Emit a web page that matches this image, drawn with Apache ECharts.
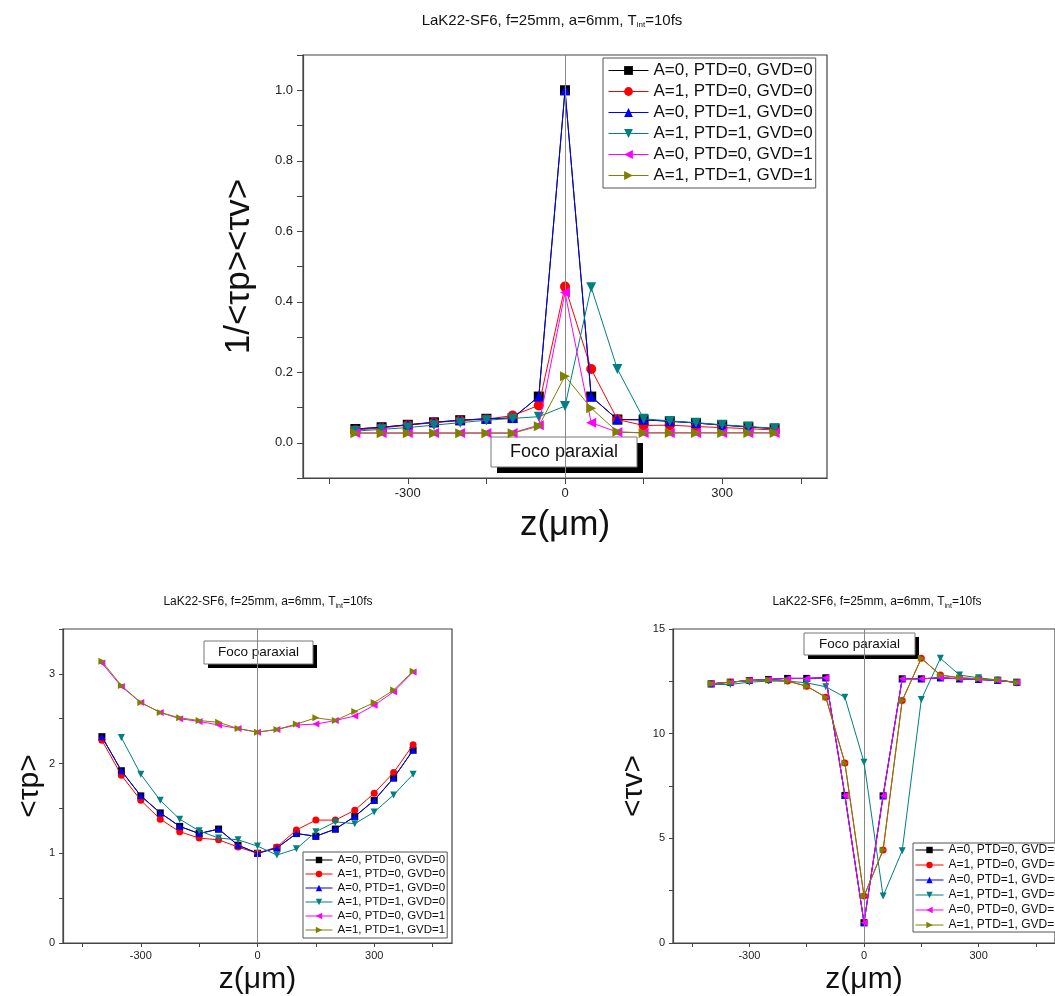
<!DOCTYPE html>
<html><head><meta charset="utf-8">
<script src="https://cdn.jsdelivr.net/npm/echarts@6/dist/echarts.min.js"></script>
<style>html,body{margin:0;padding:0;background:#fff}#c{width:1055px;height:996px}</style>
</head><body><div id="c"></div>
<script>
// ---------- data ----------
const zPos = [-400,-350,-300,-250,-200,-150,-100,-50,0,50,100,150,200,250,300,350,400];
const seriesNames = ['A=0, PTD=0, GVD=0','A=1, PTD=0, GVD=0','A=0, PTD=1, GVD=0','A=1, PTD=1, GVD=0','A=0, PTD=0, GVD=1','A=1, PTD=1, GVD=1'];
const xTickLabels = [-300, 0, 300];
const xTicks = [-450, -300, -150, 0, 150, 300, 450];
const yTicksInv = [0, 0.2, 0.4, 0.6, 0.8, 1.0];
const yMinorInv = [-0.1, 0, 0.1, 0.2, 0.3, 0.4, 0.5, 0.6, 0.7, 0.8, 0.9, 1.0, 1.1];
const yTicksTp = [0, 1, 2, 3];
const yMinorTp = [0, 0.5, 1, 1.5, 2, 2.5, 3, 3.5];
const yTicksTv = [0, 5, 10, 15];
const yMinorTv = [0, 2.5, 5, 7.5, 10, 12.5, 15];

// top panel: 1/<tau_p><tau_v>
const inv_A0P0G0 = [0.039,0.044,0.051,0.058,0.064,0.068,0.070,0.131,1.0,0.131,0.066,0.065,0.061,0.056,0.050,0.045,0.040];
const inv_A1P0G0 = [0.036,0.042,0.050,0.057,0.063,0.067,0.077,0.106,0.443,0.209,0.066,0.049,0.050,0.046,0.043,0.040,0.036];
const inv_A0P1G0 = [0.039,0.044,0.051,0.058,0.064,0.068,0.070,0.131,1.0,0.131,0.066,0.065,0.061,0.056,0.050,0.045,0.040];
const inv_A1P1G0 = [0.033,0.038,0.043,0.050,0.057,0.064,0.069,0.074,0.104,0.441,0.209,0.068,0.062,0.057,0.051,0.046,0.041];
const inv_A0P0G1 = [0.028,0.028,0.028,0.028,0.028,0.028,0.028,0.050,0.426,0.057,0.030,0.028,0.028,0.028,0.028,0.028,0.028];
const inv_A1P1G1 = [0.027,0.027,0.027,0.027,0.027,0.027,0.027,0.047,0.189,0.098,0.031,0.028,0.028,0.028,0.028,0.028,0.028];

// bottom-left: <tau_p>
const tp_A0P0G0 = [2.30,1.92,1.64,1.45,1.30,1.22,1.27,1.09,1.00,1.06,1.22,1.19,1.27,1.41,1.59,1.84,2.15];
const tp_A1P0G0 = [2.26,1.87,1.59,1.38,1.24,1.17,1.15,1.07,1.00,1.07,1.26,1.37,1.37,1.48,1.67,1.90,2.21];
const tp_A0P1G0 = [2.30,1.92,1.64,1.45,1.30,1.22,1.27,1.09,1.00,1.06,1.22,1.19,1.27,1.41,1.59,1.84,2.15];
const tp_A1P1G0 = [null,2.29,1.88,1.59,1.38,1.25,1.17,1.15,1.08,0.98,1.05,1.24,1.35,1.33,1.46,1.65,1.88];
const tp_A0P0G1 = [3.12,2.86,2.68,2.57,2.50,2.47,2.43,2.39,2.35,2.38,2.43,2.44,2.48,2.53,2.65,2.80,3.02];
const tp_A1P1G1 = [3.14,2.87,2.68,2.57,2.51,2.48,2.46,2.39,2.35,2.38,2.44,2.51,2.48,2.58,2.68,2.82,3.03];

// bottom-right: <tau_v>
const tv_A0P0G0 = [12.38,12.46,12.54,12.59,12.64,12.64,12.67,7.05,0.97,7.03,12.62,12.62,12.67,12.62,12.59,12.54,12.46];
const tv_A1P0G0 = [12.38,12.46,12.54,12.56,12.51,12.27,11.74,8.60,2.24,4.44,11.58,13.60,12.80,12.67,12.62,12.56,12.43];
const tv_A0P1G0 = [12.38,12.46,12.54,12.59,12.64,12.64,12.67,7.05,0.97,7.03,12.62,12.62,12.67,12.62,12.59,12.54,12.46];
const tv_A1P1G0 = [12.35,12.35,12.46,12.51,12.51,12.43,12.24,11.74,8.64,2.24,4.41,11.63,13.60,12.80,12.67,12.56,12.43];
const tv_A0P0G1 = [12.38,12.46,12.54,12.59,12.64,12.64,12.67,7.05,0.97,7.03,12.62,12.62,12.67,12.62,12.59,12.54,12.46];
const tv_A1P1G1 = [12.38,12.46,12.54,12.56,12.51,12.27,11.74,8.60,2.24,4.44,11.58,13.60,12.80,12.67,12.62,12.56,12.43];

const titleText = 'LaK22-SF6, f=25mm, a=6mm, T{s|int}=10fs';
const yNames = ['1/<τp><τv>', '<τp>', '<τv>'];
const xName = 'z(μm)';
const focoText = 'Foco paraxial';

// ---------- styling ----------
const FONT = 'Liberation Sans, Arial, Helvetica, sans-serif';
const colors = ['#000000','#ff0000','#0000ff','#008080','#ff00ff','#808000'];
const symbols = ['rect','circle','triangle','triangle','triangle','triangle'];
const rots = [0,0,0,180,90,-90];

const panels = [
  {data:[inv_A0P0G0,inv_A1P0G0,inv_A0P1G0,inv_A1P1G0,inv_A0P0G1,inv_A1P1G1], size:10,
   grid:{left:303, top:55, width:524, height:423}, ymin:-0.1, ymax:1.1, ylab:yTicksInv, ytick:yMinorInv,
   fmt:v=>v.toFixed(1), lf:13, tl:6, nf:35, ygap:46, xgap:30},
  {data:[tp_A0P0G0,tp_A1P0G0,tp_A0P1G0,tp_A1P1G0,tp_A0P0G1,tp_A1P1G1], size:7,
   grid:{left:63, top:629, width:389, height:314}, ymin:0, ymax:3.5, ylab:yTicksTp, ytick:yMinorTp,
   fmt:v=>String(v), lf:11, tl:4, nf:30, ygap:18, xgap:22},
  {data:[tv_A0P0G0,tv_A1P0G0,tv_A0P1G0,tv_A1P1G0,tv_A0P0G1,tv_A1P1G1], size:7,
   grid:{left:673, top:629, width:386, height:314}, ymin:0, ymax:15, ylab:yTicksTv, ytick:yMinorTv,
   fmt:v=>String(v), lf:11, tl:4, nf:30, ygap:22, xgap:22}
];

const grids=[], xAxes=[], yAxes=[], series=[];
panels.forEach((p, gi) => {
  grids.push(Object.assign({show:true, borderColor:'#444', borderWidth:1.2, backgroundColor:'transparent'}, p.grid));
  xAxes.push({type:'value', gridIndex:gi, min:-500, max:500,
    name:xName, nameLocation:'middle', nameGap:p.xgap,
    nameTextStyle:{fontSize:p.nf, fontFamily:FONT, color:'#111'},
    axisLine:{onZero:false, lineStyle:{color:'#444', width:1.2}},
    axisTick:{customValues:xTicks, length:p.tl, lineStyle:{color:'#444'}},
    axisLabel:{customValues:xTickLabels, fontSize:p.lf, fontFamily:FONT, color:'#222', margin:p.tl+3},
    splitLine:{show:false}});
  yAxes.push({type:'value', gridIndex:gi, min:p.ymin, max:p.ymax,
    name:yNames[gi], nameLocation:'middle', nameGap:p.ygap, nameRotate:90,
    nameTextStyle:{fontSize:p.nf, fontFamily:FONT, color:'#111'},
    axisLine:{onZero:false, lineStyle:{color:'#444', width:1.2}},
    axisTick:{customValues:p.ytick, length:p.tl, lineStyle:{color:'#444'}},
    axisLabel:{customValues:p.ylab, formatter:p.fmt, fontSize:p.lf, fontFamily:FONT, color:'#222', margin:p.tl+4},
    splitLine:{show:false}});
  p.data.forEach((arr, si) => {
    const s = {type:'line', name:seriesNames[si], xAxisIndex:gi, yAxisIndex:gi,
      data: zPos.map((z,k)=>[z, arr[k]]),
      symbol:symbols[si], symbolRotate:rots[si], symbolSize:p.size, showSymbol:true,
      connectNulls:false,
      lineStyle:{color:colors[si], width:1}, itemStyle:{color:colors[si]},
      emphasis:{disabled:true}, z:2+si};
    if (si === 0) {
      s.markLine = {silent:true, symbol:'none', label:{show:false}, animation:false,
        lineStyle:{color:'#888', width:1, type:'solid'}, data:[{xAxis:0}]};
    }
    series.push(s);
  });
});

const legends = [
  {left:603, top:58, itemWidth:40, itemHeight:11, itemGap:4, padding:[4,3,4,5], fs:17, lh:17},
  {left:303, top:852, itemWidth:27, itemHeight:8, itemGap:2, padding:[2,2,2,2], fs:11.5, lh:12},
  {left:913, top:843, itemWidth:28, itemHeight:8, itemGap:3, padding:[1,2,1,2], fs:12, lh:12}
].map(l => ({orient:'vertical', left:l.left, top:l.top, data:seriesNames,
  itemWidth:l.itemWidth, itemHeight:l.itemHeight, itemGap:l.itemGap, padding:l.padding,
  borderColor:'#555', borderWidth:1, backgroundColor:'#fff', selectedMode:false,
  lineStyle:{width:1},
  textStyle:{fontSize:l.fs, lineHeight:l.lh, fontFamily:FONT, color:'#111'}}));

function titleGraphic(cx, y, fs) {
  return {type:'text', x:cx, y:y, z:10, style:{text:titleText, align:'center', verticalAlign:'top',
    font: fs + 'px ' + FONT, fill:'#111',
    rich:{s:{fontSize:Math.round(fs*0.55), fontFamily:FONT, verticalAlign:'bottom', padding:[fs*0.6,0,0,0], fill:'#111'}}}};
}
function focoGraphic(x, y, w, h, off, fs) {
  return {type:'group', z:20, children:[
    {type:'rect', shape:{x:x+off, y:y+off, width:w, height:h}, style:{fill:'#000'}},
    {type:'rect', shape:{x:x, y:y, width:w, height:h}, style:{fill:'#fff', stroke:'#777', lineWidth:1}},
    {type:'text', x:x+w/2, y:y+h/2, style:{text:focoText, align:'center', verticalAlign:'middle',
      font: fs + 'px ' + FONT, fill:'#111'}}
  ]};
}

const chart = echarts.init(document.getElementById('c'), null, {renderer:'canvas'});
chart.setOption({
  animation:false,
  backgroundColor:'#fff',
  grid:grids, xAxis:xAxes, yAxis:yAxes, series:series, legend:legends,
  graphic:[
    titleGraphic(552, 12, 15),
    titleGraphic(268, 595, 12),
    titleGraphic(877, 595, 12),
    focoGraphic(491, 437, 146, 30, 6, 18),
    focoGraphic(204, 641, 109, 23, 4, 13.5),
    focoGraphic(804, 633, 111, 22, 4, 13.5)
  ]
});
</script></body></html>
